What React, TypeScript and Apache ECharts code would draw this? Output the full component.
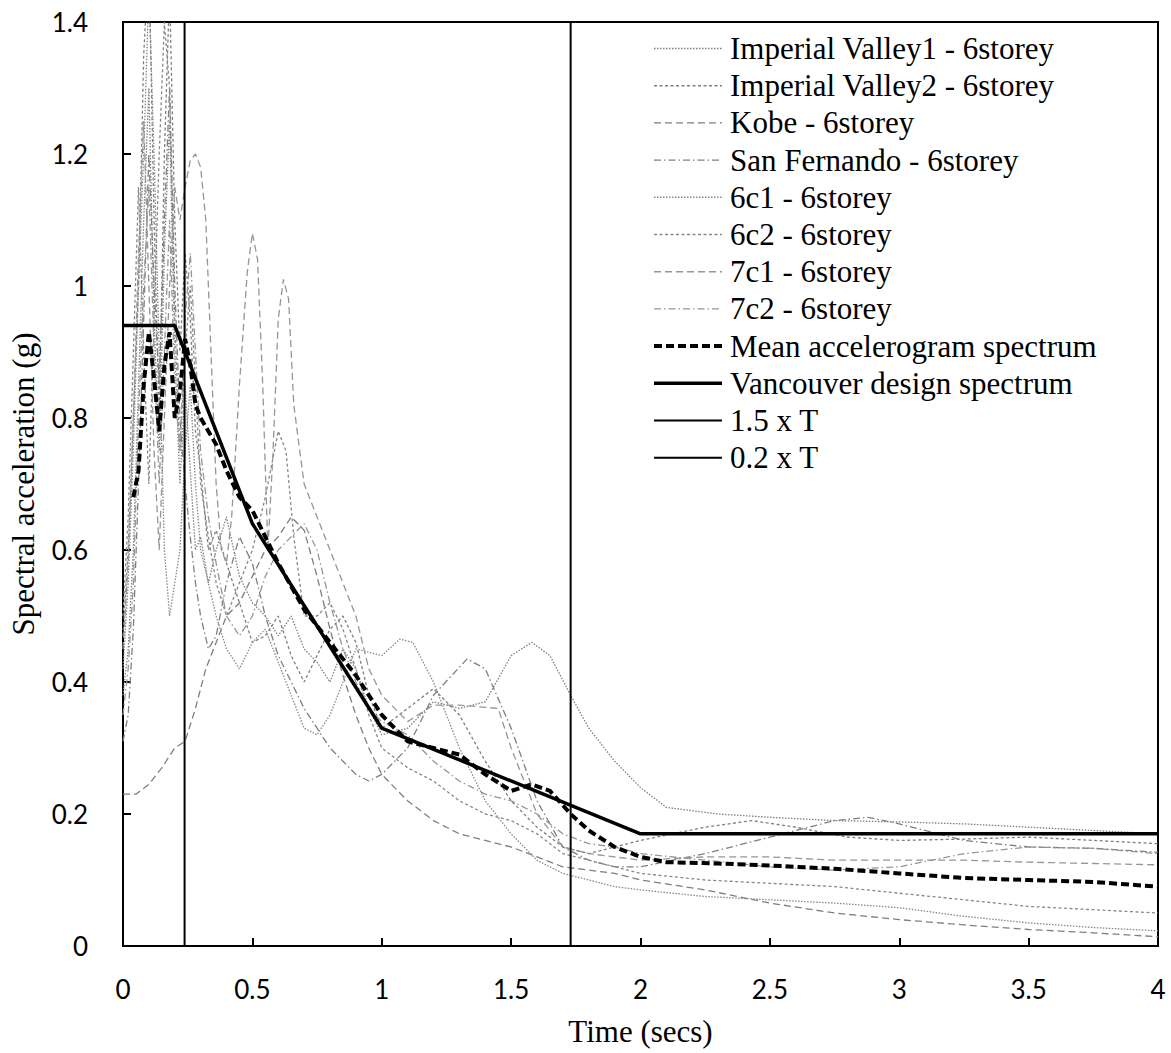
import React, { useEffect, useRef } from "react";
import * as echarts from "echarts";

type P = [number, number];

const seriesNames = [
  "Imperial Valley1 - 6storey",
  "Imperial Valley2 - 6storey",
  "Kobe - 6storey",
  "San Fernando - 6storey",
  "6c1 - 6storey",
  "6c2 - 6storey",
  "7c1 - 6storey",
  "7c2 - 6storey",
  "Mean accelerogram spectrum",
  "Vancouver design spectrum",
  "1.5 x T",
  "0.2 x T",
];

const imperialValley1: P[] = [[0,0.38],[0.02,0.45],[0.04,0.6],[0.06,0.85],[0.08,1.1],[0.1,1.3],[0.12,0.95],[0.14,0.75],[0.16,1.05],[0.18,1.25],[0.2,0.9],[0.22,0.7],[0.24,0.85],[0.26,0.72],[0.28,0.6],[0.3,0.62],[0.33,0.55],[0.36,0.6],[0.4,0.65],[0.45,0.56],[0.5,0.52],[0.55,0.5],[0.6,0.47],[0.65,0.5],[0.7,0.45],[0.75,0.43],[0.8,0.4],[0.85,0.45],[0.9,0.42],[0.95,0.36],[1.0,0.32],[1.1,0.33],[1.2,0.37],[1.3,0.36],[1.4,0.37],[1.5,0.44],[1.58,0.46],[1.65,0.44],[1.73,0.38],[1.8,0.33],[1.9,0.28],[2.0,0.24],[2.1,0.21],[2.3,0.2],[2.5,0.195],[2.75,0.19],[3.0,0.188],[3.25,0.185],[3.5,0.18],[3.75,0.175],[4.0,0.17]];
const imperialValley2: P[] = [[0,0.47],[0.02,0.6],[0.04,0.8],[0.06,1.0],[0.08,1.35],[0.1,1.5],[0.12,1.1],[0.14,0.8],[0.16,1.2],[0.18,1.45],[0.2,1.1],[0.22,0.9],[0.24,1.05],[0.26,0.95],[0.28,0.78],[0.3,0.72],[0.33,0.6],[0.36,0.63],[0.4,0.58],[0.45,0.52],[0.5,0.46],[0.55,0.47],[0.6,0.5],[0.65,0.44],[0.7,0.4],[0.75,0.44],[0.8,0.48],[0.85,0.5],[0.9,0.46],[0.95,0.38],[1.0,0.33],[1.1,0.36],[1.2,0.39],[1.3,0.35],[1.4,0.28],[1.5,0.22],[1.6,0.18],[1.7,0.15],[1.8,0.14],[1.9,0.15],[2.0,0.16],[2.25,0.18],[2.43,0.19],[2.6,0.18],[2.8,0.165],[3.0,0.16],[3.25,0.162],[3.5,0.165],[3.75,0.16],[4.0,0.155]];
const kobe: P[] = [[0,0.23],[0.05,0.23],[0.1,0.245],[0.15,0.27],[0.2,0.3],[0.24,0.31],[0.28,0.36],[0.32,0.42],[0.36,0.46],[0.4,0.5],[0.45,0.52],[0.5,0.56],[0.55,0.6],[0.6,0.62],[0.65,0.65],[0.7,0.63],[0.75,0.56],[0.8,0.48],[0.85,0.41],[0.9,0.35],[0.95,0.3],[1.0,0.26],[1.1,0.22],[1.2,0.19],[1.3,0.17],[1.4,0.16],[1.5,0.15],[1.6,0.135],[1.7,0.12],[1.8,0.115],[1.9,0.11],[2.0,0.1],[2.25,0.085],[2.5,0.065],[2.75,0.05],[3.0,0.04],[3.25,0.032],[3.5,0.025],[3.75,0.02],[4.0,0.014]];
const sanFernando: P[] = [[0,0.31],[0.02,0.35],[0.04,0.48],[0.06,0.7],[0.08,0.95],[0.1,1.2],[0.12,1.0],[0.14,0.85],[0.16,1.1],[0.18,1.3],[0.2,1.0],[0.22,0.8],[0.24,0.7],[0.26,0.62],[0.28,0.55],[0.3,0.5],[0.33,0.45],[0.36,0.47],[0.4,0.55],[0.45,0.62],[0.5,0.58],[0.55,0.5],[0.6,0.44],[0.65,0.4],[0.7,0.36],[0.75,0.33],[0.8,0.3],[0.85,0.28],[0.9,0.26],[0.95,0.25],[1.0,0.26],[1.1,0.3],[1.2,0.38],[1.33,0.435],[1.4,0.42],[1.5,0.33],[1.6,0.22],[1.7,0.15],[1.8,0.13],[1.9,0.12],[2.0,0.12],[2.25,0.14],[2.5,0.165],[2.75,0.19],[2.88,0.195],[3.0,0.185],[3.25,0.16],[3.5,0.15],[3.75,0.148],[4.0,0.142]];
const c61: P[] = [[0,0.42],[0.02,0.55],[0.04,0.75],[0.06,1.0],[0.08,1.2],[0.1,1.45],[0.12,1.2],[0.14,0.9],[0.16,0.6],[0.18,0.5],[0.2,0.55],[0.22,0.6],[0.24,0.75],[0.26,0.85],[0.28,0.7],[0.3,0.6],[0.33,0.55],[0.36,0.5],[0.4,0.45],[0.45,0.42],[0.5,0.46],[0.55,0.48],[0.6,0.43],[0.65,0.38],[0.7,0.33],[0.75,0.32],[0.8,0.35],[0.85,0.4],[0.9,0.45],[1.0,0.44],[1.07,0.465],[1.12,0.46],[1.2,0.4],[1.3,0.3],[1.4,0.22],[1.5,0.17],[1.6,0.13],[1.7,0.11],[1.8,0.1],[1.9,0.09],[2.0,0.085],[2.25,0.075],[2.5,0.07],[2.75,0.065],[3.0,0.058],[3.25,0.045],[3.5,0.035],[3.75,0.028],[4.0,0.023]];
const c62: P[] = [[0,0.5],[0.02,0.65],[0.04,0.9],[0.06,1.15],[0.08,0.9],[0.1,0.7],[0.12,0.95],[0.14,1.2],[0.16,1.4],[0.18,1.3],[0.2,0.95],[0.22,0.75],[0.24,0.9],[0.26,1.0],[0.28,0.85],[0.3,0.7],[0.33,0.62],[0.36,0.55],[0.4,0.5],[0.45,0.55],[0.5,0.6],[0.55,0.68],[0.6,0.78],[0.63,0.75],[0.66,0.62],[0.7,0.5],[0.75,0.5],[0.8,0.52],[0.85,0.48],[0.9,0.42],[0.95,0.35],[1.0,0.3],[1.1,0.27],[1.2,0.25],[1.3,0.22],[1.4,0.2],[1.5,0.19],[1.6,0.17],[1.7,0.14],[1.8,0.13],[1.9,0.12],[2.0,0.11],[2.25,0.1],[2.5,0.095],[2.75,0.09],[3.0,0.08],[3.25,0.07],[3.5,0.06],[3.75,0.055],[4.0,0.05]];
const c71: P[] = [[0,0.45],[0.02,0.58],[0.04,0.8],[0.06,1.05],[0.08,1.25],[0.1,1.0],[0.12,0.75],[0.14,0.6],[0.16,0.8],[0.18,1.0],[0.2,1.15],[0.22,1.1],[0.24,1.15],[0.26,1.19],[0.28,1.2],[0.3,1.18],[0.32,1.1],[0.34,0.9],[0.36,0.7],[0.38,0.6],[0.4,0.58],[0.42,0.65],[0.45,0.85],[0.48,1.02],[0.5,1.08],[0.52,1.04],[0.54,0.85],[0.56,0.6],[0.58,0.75],[0.6,0.95],[0.62,1.01],[0.64,0.98],[0.66,0.82],[0.7,0.7],[0.75,0.65],[0.8,0.6],[0.85,0.55],[0.9,0.5],[0.95,0.42],[1.0,0.38],[1.1,0.34],[1.2,0.365],[1.3,0.365],[1.45,0.36],[1.5,0.3],[1.6,0.2],[1.7,0.15],[1.8,0.14],[1.9,0.135],[2.0,0.13],[2.25,0.135],[2.5,0.135],[2.75,0.13],[3.0,0.13],[3.25,0.13],[3.5,0.127],[3.75,0.125],[4.0,0.123]];
const c72: P[] = [[0,0.35],[0.02,0.42],[0.04,0.55],[0.06,0.8],[0.08,1.0],[0.1,1.15],[0.12,0.9],[0.14,0.7],[0.16,0.9],[0.18,1.1],[0.2,0.85],[0.22,0.75],[0.24,0.95],[0.26,1.05],[0.28,0.9],[0.3,0.75],[0.33,0.65],[0.36,0.58],[0.4,0.5],[0.45,0.47],[0.5,0.5],[0.55,0.56],[0.6,0.6],[0.65,0.62],[0.7,0.64],[0.75,0.6],[0.8,0.52],[0.85,0.45],[0.9,0.4],[0.95,0.36],[1.0,0.34],[1.1,0.32],[1.2,0.28],[1.3,0.25],[1.4,0.23],[1.5,0.22],[1.6,0.2],[1.7,0.17],[1.8,0.155],[1.9,0.15],[2.0,0.14],[2.25,0.13],[2.5,0.12],[2.75,0.115],[3.0,0.12],[3.25,0.14],[3.5,0.15],[3.75,0.148],[4.0,0.14]];
const meanSpectrum: P[] = [[0.04,0.68],[0.06,0.72],[0.08,0.85],[0.1,0.93],[0.12,0.86],[0.14,0.78],[0.16,0.88],[0.18,0.93],[0.2,0.8],[0.22,0.84],[0.24,0.92],[0.26,0.88],[0.28,0.82],[0.3,0.8],[0.33,0.78],[0.36,0.76],[0.4,0.72],[0.45,0.68],[0.5,0.66],[0.6,0.58],[0.7,0.51],[0.8,0.46],[0.9,0.41],[1.0,0.35],[1.1,0.31],[1.2,0.3],[1.3,0.29],[1.4,0.26],[1.5,0.235],[1.58,0.245],[1.65,0.235],[1.73,0.2],[1.8,0.175],[1.9,0.15],[2.0,0.135],[2.1,0.127],[2.3,0.125],[2.5,0.122],[2.75,0.117],[3.0,0.11],[3.25,0.103],[3.5,0.1],[3.75,0.097],[4.0,0.09]];
const designSpectrum: P[] = [[0,0.94],[0.2,0.94],[0.5,0.64],[1.0,0.33],[2.0,0.17],[4.0,0.17]];
const line15T: P[] = [[1.73,0],[1.73,1.4]];
const line02T: P[] = [[0.238,0],[0.238,1.4]];

const grayData = [imperialValley1, imperialValley2, kobe, sanFernando, c61, c62, c71, c72];
const grayStyles: { color: string; type: number[] }[] = [
  { color: "#7f7f7f", type: [1.5, 1.5] },
  { color: "#7f7f7f", type: [3, 2.5] },
  { color: "#7f7f7f", type: [7, 4] },
  { color: "#7f7f7f", type: [7, 3, 1.5, 3] },
  { color: "#888888", type: [1.5, 1.5] },
  { color: "#888888", type: [3, 2.5] },
  { color: "#969696", type: [7, 4] },
  { color: "#969696", type: [7, 3, 1.5, 3] },
];

const SERIF = "'Liberation Serif', 'Times New Roman', serif";

export default function App() {
  const ref = useRef<HTMLDivElement>(null);
  useEffect(() => {
    if (!ref.current) return;
    const chart = echarts.init(ref.current, undefined, { renderer: "svg" });
    const series: any[] = grayData.map((d, i) => ({
      name: seriesNames[i],
      type: "line",
      data: d,
      symbol: "none",
      lineStyle: { color: grayStyles[i].color, width: 1.3, type: grayStyles[i].type },
      itemStyle: { color: grayStyles[i].color },
    }));
    const blackStyles = [
      { width: 4, type: [8, 4] as any },
      { width: 3.5, type: "solid" },
      { width: 2, type: "solid" },
      { width: 2, type: "solid" },
    ];
    const blackData = [meanSpectrum, designSpectrum, line15T, line02T];
    blackData.forEach((d, j) => {
      series.push({
        name: seriesNames[8 + j],
        type: "line",
        data: d,
        symbol: "none",
        lineStyle: { color: "#000", width: blackStyles[j].width, type: blackStyles[j].type },
        itemStyle: { color: "#000" },
      });
    });
    const legendData = seriesNames.map((n, i) => {
      if (i < 8) {
        return { name: n, lineStyle: { color: grayStyles[i].color, width: 1.4, type: grayStyles[i].type } };
      }
      const b = blackStyles[i - 8];
      return { name: n, lineStyle: { color: "#000", width: b.width, type: b.type } };
    });
    chart.setOption({
      animation: false,
      backgroundColor: "#fff",
      textStyle: { fontFamily: SERIF },
      grid: {
        left: 120,
        top: 22,
        right: 13,
        bottom: 107,
        show: true,
        borderColor: "#000",
        borderWidth: 2,
        containLabel: false,
      },
      legend: {
        orient: "vertical",
        left: 652,
        top: 33,
        padding: 0,
        itemWidth: 68,
        itemHeight: 14,
        itemGap: 6.2,
        selectedMode: false,
        data: legendData,
        itemStyle: { opacity: 0 },
        textStyle: {
          fontFamily: SERIF,
          fontSize: 31,
          color: "#000",
          lineHeight: 31,
          padding: [0, 0, 0, 3],
        },
      },
      xAxis: {
        type: "value",
        min: 0,
        max: 4,
        interval: 0.5,
        name: "Time (secs)",
        nameLocation: "middle",
        nameGap: 70,
        nameTextStyle: { fontFamily: SERIF, fontSize: 31, color: "#000" },
        axisLine: { lineStyle: { color: "#000", width: 2 } },
        axisTick: { inside: true, length: 8, lineStyle: { color: "#000", width: 2 } },
        axisLabel: { fontFamily: "Lato", fontSize: 26, color: "#000", margin: 30 },
        splitLine: { show: false },
      },
      yAxis: {
        type: "value",
        min: 0,
        max: 1.4,
        interval: 0.2,
        name: "Spectral acceleration (g)",
        nameLocation: "middle",
        nameGap: 84,
        nameTextStyle: { fontFamily: SERIF, fontSize: 31, color: "#000" },
        axisLine: { lineStyle: { color: "#000", width: 2 } },
        axisTick: { inside: true, length: 8, lineStyle: { color: "#000", width: 2 } },
        axisLabel: { fontFamily: "Lato", fontSize: 26, color: "#000", margin: 35 },
        splitLine: { show: false },
      },
      series,
    });
    return () => chart.dispose();
  }, []);
  return (
    <div
      ref={ref}
      style={{ position: "fixed", left: 0, top: 0, width: 1171, height: 1053, background: "#fff" }}
    />
  );
}
